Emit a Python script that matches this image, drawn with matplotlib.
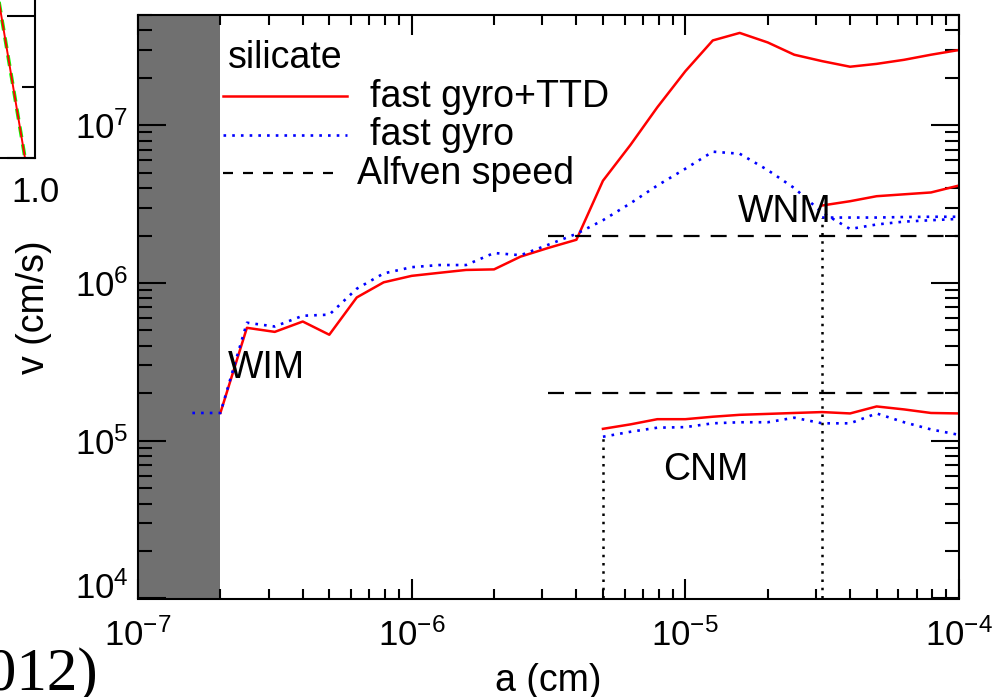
import matplotlib
matplotlib.use('Agg')
import matplotlib.pyplot as plt
from matplotlib.transforms import ScaledTranslation

# grain radius a (cm) and speed v (cm/s)
# WIM: fast gyro + TTD (red) and fast gyro only (blue)
a_wim_ttd = [2e-7, 2.5e-7, 3.16e-7, 4e-7, 5e-7, 6.3e-7, 7.9e-7, 1e-6, 1.26e-6, 1.58e-6,
             2e-6, 2.5e-6, 3.16e-6, 4e-6, 5e-6, 6.3e-6, 7.9e-6, 1e-5, 1.26e-5, 1.58e-5,
             2e-5, 2.5e-5, 3.16e-5, 4e-5, 5e-5, 6.3e-5, 7.9e-5, 1e-4]
v_wim_ttd = [1.5e5, 5.2e5, 4.9e5, 5.7e5, 4.7e5, 8.1e5, 1.01e6, 1.11e6, 1.16e6, 1.21e6,
             1.22e6, 1.47e6, 1.67e6, 1.88e6, 4.45e6, 7.5e6, 1.3e7, 2.2e7, 3.45e7, 3.85e7,
             3.35e7, 2.8e7, 2.55e7, 2.35e7, 2.45e7, 2.6e7, 2.8e7, 3.0e7]

a_wim_gyro = [1.58e-7, 2e-7, 2.5e-7, 3.16e-7, 4e-7, 5e-7, 6.3e-7, 7.9e-7, 1e-6, 1.26e-6,
              1.58e-6, 2e-6, 2.5e-6, 3.16e-6, 4e-6, 5e-6, 6.3e-6, 7.9e-6, 1e-5, 1.26e-5,
              1.58e-5, 2e-5, 2.5e-5, 3.16e-5, 4e-5, 5e-5, 6.3e-5, 7.9e-5, 1e-4]
v_wim_gyro = [1.5e5, 1.5e5, 5.6e5, 5.3e5, 6.2e5, 6.3e5, 9.2e5, 1.15e6, 1.26e6, 1.3e6,
              1.3e6, 1.55e6, 1.5e6, 1.75e6, 2.05e6, 2.5e6, 3.2e6, 4.15e6, 5.3e6, 6.8e6,
              6.6e6, 5.2e6, 4.0e6, 2.8e6, 2.2e6, 2.35e6, 2.45e6, 2.5e6, 2.55e6]

# WNM
a_wnm = [3.16e-5, 4e-5, 5e-5, 6.3e-5, 7.9e-5, 1e-4]
v_wnm_ttd = [3.1e6, 3.3e6, 3.55e6, 3.65e6, 3.75e6, 4.15e6]
v_wnm_gyro = [2.6e6, 2.6e6, 2.6e6, 2.62e6, 2.63e6, 2.63e6]

# CNM
a_cnm = [5e-6, 6.3e-6, 7.9e-6, 1e-5, 1.26e-5, 1.58e-5, 2e-5, 2.5e-5, 3.16e-5, 4e-5,
         5e-5, 6.3e-5, 7.9e-5, 1e-4]
v_cnm_ttd = [1.19e5, 1.27e5, 1.37e5, 1.37e5, 1.42e5, 1.46e5, 1.48e5, 1.5e5, 1.52e5, 1.49e5,
             1.65e5, 1.58e5, 1.5e5, 1.49e5]
v_cnm_gyro = [1.06e5, 1.14e5, 1.21e5, 1.22e5, 1.29e5, 1.31e5, 1.31e5, 1.4e5, 1.29e5, 1.29e5,
              1.49e5, 1.31e5, 1.18e5, 1.09e5]

# Alfven speeds (WNM, CNM)
a_alfven = [3.16e-6, 1e-4]
v_alfven_wnm = [2e6, 2e6]
v_alfven_cnm = [2e5, 2e5]

# grains smaller than this are excluded (shaded)
a_min_shade = [1e-7, 2e-7]

# cropped neighbour panel on the left edge
frag_x = [0.85, 0.97]
frag_y = [1.70, 0.0]

plt.rcParams['font.family'] = ['Liberation Sans', 'DejaVu Sans']
plt.rcParams['mathtext.default'] = 'regular'
plt.rcParams['axes.unicode_minus'] = False

W, H = 994, 697
fig = plt.figure(figsize=(W / 100, H / 100), dpi=100)


def fig_box(x0, y0, x1, y1):
    # pixel box with top-left origin -> figure fraction rect
    return [x0 / W, 1 - y1 / H, (x1 - x0) / W, (y1 - y0) / H]


dotted = (0, (1, 2.3))
dashed = (0, (7.2, 5))

# left fragment of the neighbouring panel
ax0 = fig.add_axes(fig_box(-300, -300, 35, 157.7))
ax0.plot(frag_x, frag_y, color='#00ff00', lw=2.6, ls=(0, (3, 2)))
ax0.plot(frag_x, frag_y, color='red', lw=1.4)
ax0.set_xlim(0, 1.0)
ax0.set_ylim(0, 3.223)
ax0.set_xticks([1.0])
ax0.set_xticklabels(['1.0'])
ax0.set_yticks([0, 1, 2, 3])
ax0.set_yticks([0.5, 1.5, 2.5], minor=True)
ax0.tick_params(axis='x', which='major', direction='in', length=0, labelsize=25, pad=13)
ax0.tick_params(axis='y', which='major', direction='in', length=20, width=1.5,
                left=False, right=True, labelleft=False)
ax0.tick_params(axis='y', which='minor', direction='in', length=9.5, width=1.5,
                left=False, right=True)
for side in ['left', 'top']:
    ax0.spines[side].set_visible(False)
for side in ['right', 'bottom']:
    ax0.spines[side].set_linewidth(1.5)

fig.text(98 / W, 1 - 690 / H, '(2012)', ha='right', va='baseline', fontsize=44,
         family='Liberation Serif')

# main panel
ax = fig.add_axes(fig_box(138, 15, 959, 598.5))
ax.set_xscale('log')
ax.set_yscale('log')

ax.axvspan(a_min_shade[0], a_min_shade[1], color='#707070', lw=0, zorder=0.5)

ax.plot(a_wim_ttd, v_wim_ttd, color='red', lw=1.8)
ax.plot(a_wim_gyro, v_wim_gyro, color='blue', lw=1.9, ls=dotted)
ax.plot(a_wnm, v_wnm_ttd, color='red', lw=1.8)
ax.plot(a_wnm, v_wnm_gyro, color='blue', lw=1.9, ls=dotted)
ax.plot(a_cnm, v_cnm_ttd, color='red', lw=1.8)
ax.plot(a_cnm, v_cnm_gyro, color='blue', lw=1.9, ls=dotted)

ax.plot(a_alfven, v_alfven_wnm, color='black', lw=1.6, ls=dashed)
ax.plot(a_alfven, v_alfven_cnm, color='black', lw=1.6, ls=dashed)

# phase boundaries
ax.plot([a_cnm[0], a_cnm[0]], [1e4, v_cnm_gyro[0]], color='black', lw=1.8, ls=dotted)
ax.plot([a_wnm[0], a_wnm[0]], [1e4, v_wnm_gyro[0]], color='black', lw=1.8, ls=dotted)

ax.text(2.13e-7, 2.49e5, 'WIM', fontsize=27, va='baseline')
ax.text(1.556e-5, 2.43e6, 'WNM', fontsize=27, va='baseline')
ax.text(8.28e-6, 5.67e4, 'CNM', fontsize=27, va='baseline')

ax.set_xlim(1e-7, 1e-4)
ax.set_ylim(1e4, 5e7)

ax.tick_params(which='both', direction='in', top=True, right=True, width=1.5, labelsize=25)
ax.tick_params(axis='x', which='major', length=14.4, pad=14)
ax.tick_params(axis='x', which='minor', length=7.2)
ax.tick_params(axis='y', which='major', length=20, pad=7)
ax.tick_params(axis='y', which='minor', length=10)
for side in ax.spines:
    ax.spines[side].set_linewidth(1.5)

ax.set_xlabel('a (cm)', fontsize=27)
ax.xaxis.set_label_coords(0.5, -0.11)
ax.set_ylabel('v (cm/s)', fontsize=27)
ax.yaxis.set_label_coords(-0.105, 0.5)

# legend drawn by hand, IDL style
tr = ax.transAxes
ax.text(0.1096, 0.909, 'silicate', fontsize=27, va='baseline', transform=tr)
ax.plot([0.1035, 0.2546], [0.8612, 0.8612], color='red', lw=1.8, transform=tr)
ax.text(0.2826, 0.8428, 'fast gyro+TTD', fontsize=27, va='baseline', transform=tr)
ax.plot([0.1035, 0.2546], [0.7943, 0.7943], color='blue', lw=1.9, ls=dotted, transform=tr)
ax.text(0.2826, 0.7772, 'fast gyro', fontsize=27, va='baseline', transform=tr)
ax.plot([0.1035, 0.2375], [0.7289, 0.7289], color='black', lw=1.6, ls=(0, (4.5, 4.5)),
        transform=tr)
ax.text(0.2664, 0.7104, 'Alfven speed', fontsize=27, va='baseline', transform=tr)

# the bottom y label sits a bit higher in the original
fig.canvas.draw()
for lab in ax.get_yticklabels():
    if lab.get_position()[1] == 1e4:
        lab.set_transform(lab.get_transform() + ScaledTranslation(0, 0.13, fig.dpi_scale_trans))

plt.savefig('out.png', dpi=100)
plt.close()
